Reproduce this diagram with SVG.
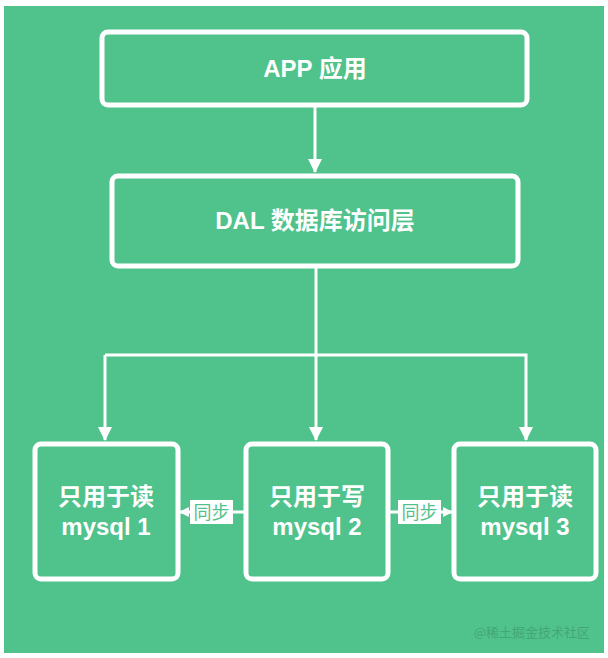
<svg xmlns="http://www.w3.org/2000/svg" width="608" height="658" viewBox="0 0 608 658">
<defs>
<style>
.box{fill:none;stroke:#ffffff;stroke-width:5;}
.t{font-family:"Liberation Sans","Noto Sans CJK SC",sans-serif;font-weight:bold;fill:#ffffff;font-size:24px;text-anchor:middle;}
.line{stroke:#ffffff;stroke-width:3;fill:none;}
.sync{fill:#ffffff;}
.st{font-family:"Noto Sans CJK SC",sans-serif;fill:#50c28b;font-size:18px;text-anchor:middle;}
</style>
<marker id="ah" markerWidth="10" markerHeight="10" refX="9" refY="5" orient="auto" markerUnits="userSpaceOnUse" viewBox="0 0 10 10">
<path d="M0,0 L10,5 L0,10 Z" fill="#ffffff"/>
</marker>
<marker id="ah2" markerWidth="14" markerHeight="14" refX="13" refY="7" orient="auto" markerUnits="userSpaceOnUse" viewBox="0 0 14 14">
<path d="M0,0 L14,7 L0,14 Z" fill="#ffffff"/>
</marker>
</defs>
<rect x="0" y="0" width="608" height="658" fill="#ffffff"/>
<rect x="4" y="6" width="600" height="647" fill="#50c28b"/>
<g id="connectors">
<line class="line" x1="315" y1="106" x2="315" y2="172" marker-end="url(#ah2)"/>
<line class="line" x1="316" y1="268" x2="316" y2="440" marker-end="url(#ah2)"/>
<polyline class="line" points="105,355 526,355 526,440" marker-end="url(#ah2)"/>
<line class="line" x1="105" y1="355" x2="105" y2="440" marker-end="url(#ah2)"/>
<line class="line" x1="244" y1="512" x2="180" y2="512" marker-end="url(#ah)"/>
<line class="line" x1="390" y1="512" x2="452" y2="512" marker-end="url(#ah)"/>
</g>
<g id="app">
<rect class="box" x="102" y="32" width="425" height="73" rx="6"/>
<text class="t" x="315" y="77">APP 应用</text>
</g>
<g id="dal">
<rect class="box" x="112" y="176" width="406" height="90" rx="6"/>
<text class="t" x="315" y="229">DAL 数据库访问层</text>
</g>
<g id="mysql1">
<rect class="box" x="35" y="444" width="143" height="135" rx="6"/>
<text class="t" x="106" y="505">只用于读</text>
<text class="t" x="106" y="535">mysql 1</text>
</g>
<g id="mysql2">
<rect class="box" x="246" y="444" width="142" height="135" rx="6"/>
<text class="t" x="317" y="505">只用于写</text>
<text class="t" x="317" y="535">mysql 2</text>
</g>
<g id="mysql3">
<rect class="box" x="454" y="444" width="142" height="135" rx="6"/>
<text class="t" x="525" y="505">只用于读</text>
<text class="t" x="525" y="535">mysql 3</text>
</g>
<g id="sync1">
<rect class="sync" x="190" y="500" width="43" height="24"/>
<text class="st" x="211.5" y="518.5">同步</text>
</g>
<g id="sync2">
<rect class="sync" x="398" y="500" width="43" height="24"/>
<text class="st" x="419.5" y="518.5">同步</text>
</g>
<text x="590" y="637" font-family="Noto Sans CJK SC,sans-serif" font-size="13" fill="#3f9a6e" fill-opacity="0.7" text-anchor="end">@稀土掘金技术社区</text>
</svg>
